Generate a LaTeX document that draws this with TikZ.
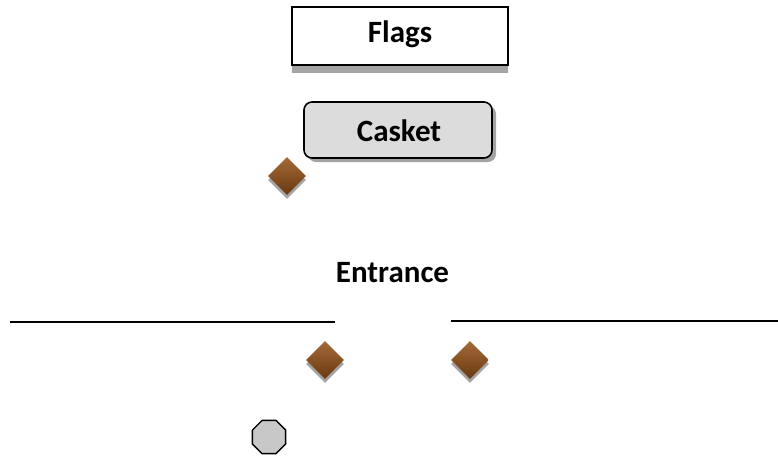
\documentclass[tikz,border=0pt]{standalone}
\usepackage{fontspec}
\setmainfont{Carlito}
\usetikzlibrary{shapes.geometric,shadows}
\definecolor{brtop}{HTML}{A36B38}
\definecolor{brbot}{HTML}{6A3810}
\definecolor{shgray}{HTML}{A4A4A4}
\definecolor{boxgray}{HTML}{DCDCDC}
\definecolor{octgray}{HTML}{C8C8C8}
\begin{document}
\begin{tikzpicture}[x=1pt,y=-1pt,
  lbl/.style={font=\fontsize{31}{35}\selectfont\bfseries, inner sep=0pt, anchor=base},
  flagbox/.style={draw=black, line width=1.6pt, fill=white, minimum width=216pt, minimum height=58pt, inner sep=0pt,
     drop shadow={shadow xshift=0pt, shadow yshift=-8pt, fill=shgray, opacity=1}},
  casketbox/.style={draw=black, line width=1.6pt, fill=boxgray, rounded corners=8pt, minimum width=188pt, minimum height=56pt, inner sep=0pt,
     drop shadow={shadow xshift=4pt, shadow yshift=-4pt, fill=shgray, opacity=1}},
  gem/.style={diamond, minimum width=38pt, minimum height=38pt, inner sep=0pt, top color=brtop, bottom color=brbot, draw=none,
     drop shadow={shadow xshift=0pt, shadow yshift=-4pt, fill=shgray, opacity=1}},
  oct/.style={regular polygon, regular polygon sides=8, minimum size=36pt, inner sep=0pt, fill=octgray, draw=black, line width=1.4pt},
  wall/.style={line width=2.4pt, black}]
\useasboundingbox (0,0) rectangle (778,456);
\node[flagbox] (flags) at (400,36) {};
\node[lbl] (flagst) at (400,42) {Flags};
\node[casketbox] (casket) at (398,130) {};
\node[lbl] (caskett) at (399,141) {Casket};
\node[gem] (g1) at (287,176) {};
\node[lbl] (entr) at (392.5,282) {Entrance};
\coordinate (l1) at (10,322);
\coordinate (l2) at (335,322);
\coordinate (r1) at (451,321);
\coordinate (r2) at (778,321);
\draw[wall] (l1) -- (l2);
\draw[wall] (r1) -- (r2);
\node[gem] (g2) at (325,360) {};
\node[gem] (g3) at (470,360) {};
\node[oct] (o1) at (269,437) {};
\end{tikzpicture}
\end{document}
